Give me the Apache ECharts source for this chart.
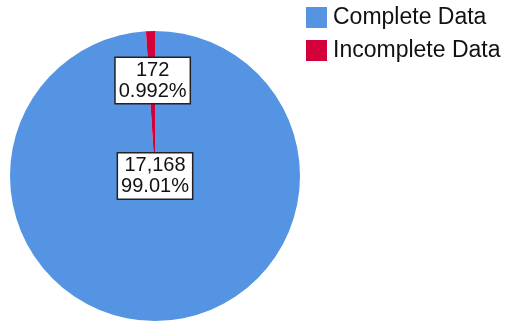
<!DOCTYPE html>
<html>
<head>
<meta charset="utf-8">
<script src="https://cdn.jsdelivr.net/npm/echarts@6/dist/echarts.min.js"></script>
<style>
  html, body { margin: 0; padding: 0; background: #fff; }
  #chart { width: 506px; height: 324px; }
</style>
</head>
<body>
<div id="chart"></div>
<script>
// Record counts by data completeness
const categories = ['Complete Data', 'Incomplete Data'];
const counts = [17168, 172];
const colors = ['#5594e2', '#d4003a'];

const total = counts.reduce((a, b) => a + b, 0);

function pctText(v) {
  const p = v / total * 100;
  return (p >= 10 ? p.toFixed(2) : p.toFixed(3)) + '%';
}

const chart = echarts.init(document.getElementById('chart'), null, { renderer: 'canvas' });

chart.setOption({
  animation: false,
  color: colors,
  legend: {
    orient: 'vertical',
    left: 306,
    top: 6,
    padding: 0,
    itemWidth: 21,
    itemHeight: 21,
    itemGap: 10,
    icon: 'rect',
    textStyle: { fontFamily: 'Liberation Sans', fontSize: 23, color: '#111', padding: [0, 0, 0, 1] },
    data: categories
  },
  series: [{
    type: 'pie',
    center: [155, 176],
    radius: 145,
    startAngle: 90,
    clockwise: true,
    emphasis: { disabled: true },
    labelLine: { show: false },
    label: {
      show: true,
      position: 'inside',
      formatter: p => p.value.toLocaleString('en-US') + '\n' + pctText(p.value),
      fontFamily: 'Liberation Sans',
      fontSize: 20,
      lineHeight: 21,
      color: '#111',
      align: 'center',
      backgroundColor: '#fff',
      borderColor: '#222',
      borderWidth: 1.5,
      padding: [2, 3, 1, 3]
    },
    labelLayout: function (params) {
      if (params.dataIndex === 1) {
        return { dy: -20 };
      }
    },
    data: categories.map((name, i) => ({
      name: name,
      value: counts[i],
      label: i === 0 ? { position: 'center' } : undefined
    }))
  }]
});
</script>
</body>
</html>
